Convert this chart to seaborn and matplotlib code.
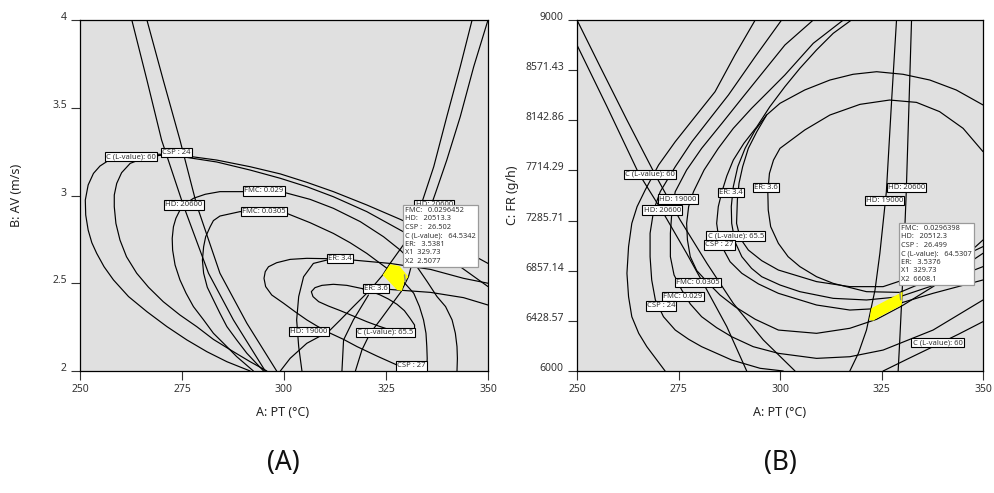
import matplotlib
matplotlib.use("Agg")
import matplotlib.pyplot as plt
import seaborn as sns
import pandas as pd

sns.set_theme(style="ticks")
plt.rcParams['font.family'] = ['Noto Sans', 'DejaVu Sans']

# ---------------- Panel A : PT (x) vs AV (y) ----------------
A_hd_left_x = [262.7, 266.4, 270.0, 275.3, 281.5, 287.6, 295.4]
A_hd_left_y = [4.0, 3.658, 3.316, 2.946, 2.557, 2.291, 2.0]
A_csp24_line_x = [266.4, 270.4, 274.5, 278.6, 284.3, 290.9, 298.2]
A_csp24_line_y = [4.0, 3.658, 3.316, 2.946, 2.557, 2.272, 2.0]
A_c60_x = [350.0, 343.2, 336.7, 328.5, 320.3, 312.1, 305.6, 299.1, 291.7, 283.5, 276.2, 269.6, 264.7, 260.6,
           257.4, 254.9, 253.3, 252.0, 251.3, 251.4, 252.0, 252.9, 254.1, 255.9, 258.2, 261.9, 266.4, 271.3,
           276.2, 281.1, 286.0, 291.7]
A_c60_y = [2.613, 2.699, 2.775, 2.864, 2.946, 3.022, 3.075, 3.123, 3.164, 3.202, 3.225, 3.235, 3.235, 3.229,
           3.206, 3.168, 3.126, 3.060, 2.974, 2.889, 2.803, 2.731, 2.670, 2.594, 2.519, 2.424, 2.338, 2.253,
           2.177, 2.110, 2.053, 2.0]
A_csp24_x = [350.0, 343.2, 336.7, 328.5, 320.3, 312.1, 305.6, 299.1, 291.7, 283.5, 276.2, 269.6, 265.5, 262.3,
             260.2, 259.0, 258.4, 258.4, 258.8, 259.8, 261.4, 263.9, 266.8, 270.4, 274.5, 278.6, 282.7, 287.6,
             291.7, 295.8]
A_csp24_y = [2.481, 2.594, 2.699, 2.803, 2.908, 2.993, 3.050, 3.098, 3.145, 3.191, 3.217, 3.229, 3.212, 3.183,
             3.130, 3.069, 3.003, 2.936, 2.841, 2.746, 2.651, 2.557, 2.477, 2.395, 2.319, 2.253, 2.180, 2.110,
             2.053, 2.0]
A_fmc029_x = [342.4, 342.5, 342.4, 342.0, 341.2, 339.6, 337.5, 335.1, 332.6, 328.5, 324.4, 318.7, 312.1, 306.4,
              300.3, 295.0, 290.1, 284.3, 280.7, 277.8, 275.8, 274.5, 273.5, 272.9, 272.6, 272.7, 273.3, 274.5,
              276.0, 277.8, 280.3, 282.7, 285.6, 288.4, 292.5]
A_fmc029_y = [2.0, 2.072, 2.139, 2.215, 2.291, 2.367, 2.424, 2.509, 2.594, 2.689, 2.765, 2.851, 2.927, 2.978,
              3.016, 3.026, 3.022, 3.022, 3.007, 2.984, 2.952, 2.917, 2.870, 2.822, 2.756, 2.689, 2.604, 2.519,
              2.443, 2.367, 2.291, 2.215, 2.148, 2.082, 2.0]
A_fmc0305_x = [335.0, 335.1, 335.0, 334.8, 334.2, 333.2, 331.8, 329.5, 326.9, 323.6, 320.3, 316.2, 312.1, 306.4,
               300.7, 295.0, 289.2, 284.3, 282.7, 281.9, 280.8, 280.3, 280.0, 280.3, 281.2, 282.7, 284.3, 286.0,
               288.4, 290.9, 295.0]
A_fmc0305_y = [2.0, 2.072, 2.139, 2.215, 2.291, 2.367, 2.443, 2.503, 2.557, 2.613, 2.670, 2.731, 2.784, 2.845,
               2.898, 2.912, 2.908, 2.883, 2.857, 2.822, 2.765, 2.708, 2.632, 2.557, 2.477, 2.405, 2.329, 2.253,
               2.177, 2.101, 2.0]
A_er34_x = [350.0, 344.0, 335.9, 326.0, 317.0, 310.5, 305.6, 301.5, 298.2, 296.2, 295.4, 295.1, 295.5, 297.0,
            299.9, 302.7, 305.6, 308.1, 310.9, 314.6, 317.9, 322.8, 327.7, 330.9]
A_er34_y = [2.500, 2.528, 2.579, 2.613, 2.632, 2.640, 2.642, 2.636, 2.617, 2.594, 2.566, 2.528, 2.481, 2.433,
            2.386, 2.338, 2.291, 2.256, 2.220, 2.180, 2.139, 2.085, 2.034, 2.0]
A_er34b_x = [310.5, 307.2, 304.8, 303.6, 303.1, 303.6, 304.4]
A_er34b_y = [2.632, 2.613, 2.537, 2.424, 2.291, 2.139, 2.0]
A_er36_x = [350.0, 344.0, 335.9, 325.7, 319.3]
A_er36_y = [2.376, 2.418, 2.448, 2.465, 2.469]
A_c655_x = [319.3, 315.4, 312.1, 309.3, 307.6, 306.7, 307.1, 308.5, 310.9, 313.8, 317.0, 320.3, 323.2, 326.0,
            328.5, 330.5, 332.0, 332.0, 330.9, 329.5, 327.7, 325.6, 323.6, 321.1, 319.3]
A_c655_y = [2.469, 2.488, 2.494, 2.488, 2.475, 2.452, 2.424, 2.395, 2.370, 2.344, 2.313, 2.281, 2.256, 2.234,
            2.218, 2.215, 2.230, 2.262, 2.300, 2.344, 2.380, 2.410, 2.433, 2.456, 2.469]
A_csp27_x = [314.2, 314.6, 317.0, 320.7]
A_csp27_y = [2.0, 2.177, 2.291, 2.433]
A_hd19000_x = [346.1, 343.2, 339.9, 336.7, 333.6, 330.1, 326.0, 324.2, 321.1, 317.0, 313.8, 310.9, 305.6, 301.5, 299.1]
A_hd19000_y = [4.0, 3.734, 3.449, 3.164, 2.946, 2.746, 2.613, 2.547, 2.462, 2.367, 2.291, 2.224, 2.158, 2.072, 2.0]
A_hd20600_x = [350.0, 346.5, 343.2, 339.9, 337.1, 334.2, 331.8, 330.5, 328.7, 326.0, 323.6, 321.1, 319.1, 317.5]
A_hd20600_y = [4.0, 3.734, 3.449, 3.202, 3.012, 2.822, 2.651, 2.537, 2.452, 2.367, 2.291, 2.215, 2.120, 2.0]
A_region_x = [324.2, 326.0, 328.3, 330.5, 329.5, 328.9, 327.7]
A_region_y = [2.547, 2.608, 2.598, 2.537, 2.509, 2.456, 2.462]

# ---------------- Panel B : PT (x) vs FR (y) ----------------
B_da_x = [250.0, 255.7, 262.3, 269.3, 275.4, 282.0, 288.5, 295.9, 303.7]
B_da_y = [9000, 8601, 8145, 7675, 7291, 6920, 6578, 6265, 6000]
B_db_x = [250.0, 257.4, 265.2, 271.3, 277.0, 282.0, 286.9, 291.8]
B_db_y = [8786, 8259, 7689, 7348, 7006, 6692, 6379, 6000]
B_a1_x = [293.9, 288.9, 284.0, 279.1, 274.2, 270.1, 266.8, 264.8, 263.5, 262.7, 262.3, 262.7, 263.5, 265.2, 267.2, 271.7]
B_a1_y = [9000, 8701, 8387, 8174, 7960, 7761, 7547, 7405, 7262, 7063, 6835, 6635, 6464, 6322, 6208, 6000]
B_a2_x = [300.4, 293.9, 287.3, 282.8, 278.3, 274.2, 270.5, 268.9, 268.0, 268.0, 268.4, 269.3, 271.3, 274.2,
          277.5, 280.7, 288.1, 295.1, 300.8]
B_a2_y = [9000, 8687, 8359, 8160, 7960, 7746, 7533, 7376, 7177, 6977, 6778, 6607, 6464, 6350,
          6271, 6208, 6094, 6023, 6000]
B_c60r_x = [325.4, 331.5, 337.7, 344.0, 350.0]
B_c60r_y = [6000, 6104, 6208, 6315, 6422]
B_a3_x = [308.2, 301.2, 295.9, 290.6, 285.7, 280.7, 277.0, 274.2, 273.4, 273.0, 273.0, 273.9, 275.8, 277.9,
          280.7, 284.4, 288.1, 293.4, 299.6, 309.0, 317.2, 325.4, 337.7, 350.0]
B_a3_y = [9000, 8786, 8558, 8330, 8117, 7903, 7718, 7533, 7376, 7177, 6977, 6821, 6692, 6573,
          6464, 6370, 6293, 6208, 6151, 6108, 6122, 6179, 6350, 6607]
B_a4_x = [315.6, 308.2, 301.2, 297.1, 293.0, 288.5, 284.8, 281.3, 278.7, 277.5, 277.0, 277.2, 277.9, 279.5,
          282.4, 285.2, 288.9, 293.9, 299.6, 309.0, 317.2, 323.8, 330.0, 337.7, 350.0]
B_a4_y = [9000, 8801, 8530, 8387, 8245, 8074, 7903, 7718, 7533, 7405, 7262, 7120, 6977, 6858,
          6749, 6650, 6550, 6442, 6350, 6322, 6365, 6442, 6556, 6721, 7006]
B_a5_x = [317.6, 313.1, 309.0, 304.9, 301.2, 297.5, 294.3, 291.1, 288.5, 286.9, 285.7, 284.8, 284.4, 284.8,
          285.7, 287.7, 290.6, 294.7, 299.6, 309.0, 317.2, 325.4, 337.7, 350.0]
B_a5_y = [9000, 8886, 8744, 8587, 8430, 8259, 8088, 7946, 7803, 7667, 7533, 7405, 7262, 7162,
          7063, 6934, 6835, 6744, 6664, 6564, 6521, 6536, 6664, 6778]
B_erout_x = [350.0, 343.4, 336.9, 330.3, 323.8, 318.0, 312.3, 306.1, 300.0, 296.7, 293.9, 291.4, 289.6, 288.5,
             288.0, 288.1, 288.9, 290.6, 293.0, 295.5, 300.0, 304.9, 313.1, 321.3, 329.5, 339.3, 350.0]
B_erout_y = [8274, 8402, 8487, 8536, 8558, 8536, 8487, 8402, 8288, 8188, 8060, 7903, 7746, 7576,
             7405, 7262, 7105, 6977, 6877, 6806, 6735, 6678, 6621, 6607, 6635, 6749, 6892]
B_a7_x = [296.7, 294.3, 292.2, 290.8, 289.9, 289.5, 289.3, 290.2, 292.2, 295.5, 299.6, 309.0, 317.2, 325.4, 337.7, 350.0]
B_a7_y = [8188, 8046, 7903, 7746, 7604, 7462, 7262, 7134, 7034, 6943, 6863, 6764, 6721, 6721, 6863, 7063]
B_erin_x = [350.0, 345.1, 339.3, 333.6, 327.0, 319.7, 312.3, 306.1, 300.0, 298.4, 297.4, 297.0, 297.1, 297.7,
            299.6, 302.0, 304.9, 309.0, 313.1, 321.3, 329.5, 337.7, 345.9, 350.0]
B_erin_y = [7875, 8074, 8217, 8296, 8316, 8279, 8188, 8060, 7903, 7803, 7689, 7533, 7376, 7234,
            7091, 6977, 6892, 6806, 6749, 6678, 6672, 6792, 6991, 7120]
B_v1_x = [328.7, 327.5, 326.2, 324.6, 323.4, 321.3, 319.3, 317.2]
B_v1_y = [9000, 8316, 7533, 7006, 6692, 6350, 6151, 6000]
B_v2_x = [332.4, 331.8, 331.1, 330.5, 330.3, 329.9, 329.5, 329.1]
B_v2_y = [9000, 8316, 7533, 7006, 6835, 6550, 6265, 6000]
B_region_x = [322.0, 322.5, 329.5, 330.2, 330.0, 323.8, 323.0]
B_region_y = [6436, 6536, 6664, 6678, 6564, 6450, 6430]

x_ticks = [250, 275, 300, 325, 350]
A_yticks = [2, 2.5, 3, 3.5, 4]
A_ytick_labels = ["2", "2.5", "3", "3.5", "4"]
B_yticks = [6000, 6428.57, 6857.14, 7285.71, 7714.29, 8142.86, 8571.43, 9000]
B_ytick_labels = ["6000", "6428.57", "6857.14", "7285.71", "7714.29", "8142.86", "8571.43", "9000"]

A_labels = [("C (L-value): 60", 262.6, 3.221), ("CSP : 24", 273.7, 3.244),
            ("FMC: 0.029", 295.1, 3.026), ("HD: 20600", 275.5, 2.946),
            ("FMC: 0.0305", 295.0, 2.908), ("HD: 20600", 336.8, 2.946),
            ("ER: 3.4", 313.8, 2.640), ("ER: 3.6", 322.5, 2.469),
            ("HD: 19000", 306.1, 2.224), ("C (L-value): 65.5", 324.9, 2.220),
            ("CSP : 27", 331.2, 2.029)]
B_labels = [("C (L-value): 60", 267.9, 7681), ("HD: 19000", 274.8, 7470),
            ("HD: 20600", 271.0, 7376), ("ER: 3.4", 287.9, 7527),
            ("ER: 3.6", 296.5, 7567), ("HD: 20600", 331.2, 7567),
            ("HD: 19000", 325.7, 7456), ("C (L-value): 65.5", 289.1, 7154),
            ("CSP : 27", 285.1, 7077), ("FMC: 0.0305", 279.8, 6755),
            ("FMC: 0.029", 276.1, 6635), ("CSP : 24", 270.7, 6556),
            ("C (L-value): 60", 338.8, 6242)]

A_info = ("FMC:   0.0296452\nHD:   20513.3\nCSP :   26.502\nC (L-value):   64.5342\n"
          "ER:   3.5381\nX1  329.73\nX2  2.5077")
B_info = ("FMC:   0.0296398\nHD:   20512.3\nCSP :   26.499\nC (L-value):   64.5307\n"
          "ER:   3.5376\nX1  329.73\nX2  6608.1")
A_point = (329.73, 2.5077)
B_point = (329.73, 6608.1)


def to_frame(curves):
    rows = []
    for name, (xs, ys) in curves.items():
        for i, (x, y) in enumerate(zip(xs, ys)):
            rows.append({"curve": name, "order": i, "x": x, "y": y})
    return pd.DataFrame(rows)


A_curves = {"hdl": (A_hd_left_x, A_hd_left_y), "cspl": (A_csp24_line_x, A_csp24_line_y),
            "c60": (A_c60_x, A_c60_y), "csp24": (A_csp24_x, A_csp24_y),
            "f029": (A_fmc029_x, A_fmc029_y), "f0305": (A_fmc0305_x, A_fmc0305_y),
            "er34": (A_er34_x, A_er34_y), "er34b": (A_er34b_x, A_er34b_y),
            "er36": (A_er36_x, A_er36_y), "c655": (A_c655_x, A_c655_y),
            "csp27": (A_csp27_x, A_csp27_y), "hd19": (A_hd19000_x, A_hd19000_y),
            "hd20": (A_hd20600_x, A_hd20600_y)}
B_curves = {"da": (B_da_x, B_da_y), "db": (B_db_x, B_db_y), "a1": (B_a1_x, B_a1_y),
            "a2": (B_a2_x, B_a2_y), "c60r": (B_c60r_x, B_c60r_y), "a3": (B_a3_x, B_a3_y),
            "a4": (B_a4_x, B_a4_y), "a5": (B_a5_x, B_a5_y), "erout": (B_erout_x, B_erout_y),
            "a7": (B_a7_x, B_a7_y), "erin": (B_erin_x, B_erin_y), "v1": (B_v1_x, B_v1_y),
            "v2": (B_v2_x, B_v2_y)}

fig = plt.figure(figsize=(9.95, 4.93), dpi=100)
fig.patch.set_facecolor("white")
axA = fig.add_axes([80 / 995, 1 - 371 / 493, 408 / 995, 351 / 493])
axB = fig.add_axes([577 / 995, 1 - 371 / 493, 406 / 995, 351 / 493])

panels = [
    (axA, A_curves, A_region_x, A_region_y, A_yticks, A_ytick_labels, (2, 4), A_labels, A_info, A_point, (329.75, 2.935)),
    (axB, B_curves, B_region_x, B_region_y, B_yticks, B_ytick_labels, (6000, 9000), B_labels, B_info, B_point, (329.8, 7250)),
]

for ax, curves, rx, ry, yt, ytl, ylim, labels, info, pt, infopos in panels:
    ax.set_facecolor("#e0e0e0")
    df = to_frame(curves)
    sns.lineplot(data=df, x="x", y="y", units="curve", estimator=None, sort=False,
                 color="black", linewidth=0.85, ax=ax, legend=False, zorder=2)
    ax.fill(rx, ry, color="#ffff00", edgecolor="none", zorder=3)
    ax.set_xlim(250, 350)
    ax.set_ylim(*ylim)
    ax.set_xticks(x_ticks)
    ax.set_xticklabels([str(t) for t in x_ticks])
    ax.set_yticks(yt)
    ax.set_yticklabels(ytl, va="baseline")
    ax.set_xlabel("")
    ax.set_ylabel("")
    ax.tick_params(direction="out", length=6.5, width=0.8, colors="#333333",
                   labelsize=7.5, labelcolor="#333333", pad=3)
    for sp in ax.spines.values():
        sp.set_color("black")
        sp.set_linewidth(0.9)
        sp.set_visible(True)
    for text, x, y in labels:
        ax.text(x, y, text, ha="center", va="center", fontsize=5.5, color="#333333", zorder=5,
                bbox=dict(boxstyle="square,pad=0.15", fc="white", ec="black", lw=0.8))
    ax.plot([pt[0], pt[0] - 0.2], [pt[1], pt[1] + (ylim[1] - ylim[0]) * 0.02],
            color="#888888", lw=1.0, zorder=4)
    ax.text(infopos[0], infopos[1], info, ha="left", va="top", fontsize=5.3,
            color="#333333", linespacing=1.3, zorder=6,
            bbox=dict(boxstyle="square,pad=0.3", fc="white", ec="#9a9a9a", lw=0.9))

fig.text(283 / 995, 1 - 413 / 493, "A: PT (°C)", ha="center", va="center", fontsize=9, color="#222222")
fig.text(780 / 995, 1 - 413 / 493, "A: PT (°C)", ha="center", va="center", fontsize=9, color="#222222")
fig.text(17 / 995, 1 - 195 / 493, "B: AV (m/s)", ha="center", va="center", rotation=90, fontsize=9, color="#222222")
fig.text(513 / 995, 1 - 195 / 493, "C: FR (g/h)", ha="center", va="center", rotation=90, fontsize=9, color="#222222")
fig.text(283 / 995, 1 - 463 / 493, "(A)", ha="center", va="center", fontsize=19, color="#111111")
fig.text(780 / 995, 1 - 463 / 493, "(B)", ha="center", va="center", fontsize=19, color="#111111")

fig.savefig("out.png", dpi=100, facecolor="white")
